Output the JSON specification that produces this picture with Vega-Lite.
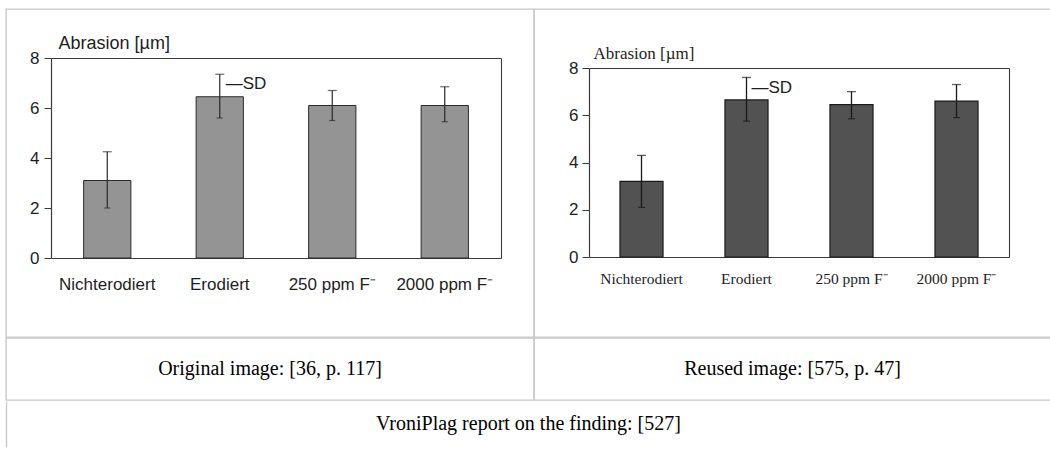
{
  "$schema": "https://vega.github.io/schema/vega-lite/v6.json",
  "background": "white",
  "padding": {"left": 5, "top": 8, "right": 0, "bottom": 0},
  "spacing": -1.4,
  "datasets": {
    "original": [
      {"group": "Nichterodiert", "mean": 3.1, "lo": 2.0, "hi": 4.25},
      {"group": "Erodiert", "mean": 6.45, "lo": 5.6, "hi": 7.35},
      {"group": "250 ppm F⁻", "mean": 6.1, "lo": 5.5, "hi": 6.7},
      {"group": "2000 ppm F⁻", "mean": 6.1, "lo": 5.45, "hi": 6.85}
    ],
    "reused": [
      {"group": "Nichterodiert", "mean": 3.2, "lo": 2.1, "hi": 4.3},
      {"group": "Erodiert", "mean": 6.65, "lo": 5.75, "hi": 7.6},
      {"group": "250 ppm F⁻", "mean": 6.45, "lo": 5.85, "hi": 7.0},
      {"group": "2000 ppm F⁻", "mean": 6.6, "lo": 5.9, "hi": 7.3}
    ],
    "sd1": [{"label": "—SD", "group": "Erodiert", "pos": 6.96}],
    "sd2": [{"label": "—SD", "group": "Erodiert", "pos": 7.16}],
    "cap1": [{"t": "Original image: [36, p. 117]"}],
    "cap2": [{"t": "Reused image: [575, p. 47]"}],
    "cap3": [{"t": "VroniPlag report on the finding: [527]"}]
  },
  "vconcat": [
    {
      "hconcat": [
        {
          "width": 528,
          "height": 328,
          "data": {"name": "original"},
          "layer": [
            {
              "mark": {"type": "bar", "fill": "#949494", "stroke": "#2a2a2a", "strokeWidth": 1},
              "encoding": {
                "x": {"field": "group", "type": "nominal", "sort": null,
                  "scale": {"range": [45, 495], "paddingInner": 0.58, "paddingOuter": 0.29},
                  "axis": {"orient": "bottom", "offset": -79, "title": null, "ticks": false, "labelAngle": 0, "labelPadding": 18,
                    "labelFont": "Liberation Sans", "labelFontSize": 17, "labelColor": "#1e1e1e", "domainColor": "#3a3a3a", "domainWidth": 1.2}},
                "y": {"field": "mean", "type": "quantitative",
                  "scale": {"domain": [0, 8], "range": [249, 49], "nice": false},
                  "axis": {"orient": "left", "offset": -45, "values": [0, 2, 4, 6, 8], "grid": false, "tickSize": 7, "tickColor": "#3a3a3a",
                    "labelPadding": 5, "labelFont": "Liberation Sans", "labelFontSize": 17, "labelColor": "#1e1e1e",
                    "domainColor": "#3a3a3a", "domainWidth": 1.2,
                    "title": "Abrasion [µm]", "titleAngle": 0, "titleAlign": "left", "titleBaseline": "alphabetic",
                    "titleX": 7, "titleY": 39, "titleFont": "Liberation Sans", "titleFontSize": 18, "titleFontWeight": "normal", "titleColor": "#1e1e1e"}}
              }
            },
            {
              "mark": {"type": "rule", "color": "#2a2a2a", "strokeWidth": 1.2},
              "encoding": {
                "x": {"field": "group", "type": "nominal", "sort": null,
                  "scale": {"range": [45, 495], "paddingInner": 0.58, "paddingOuter": 0.29},
                  "axis": {"orient": "top", "offset": -49, "title": null, "ticks": false, "labels": false, "domainColor": "#3a3a3a", "domainWidth": 1.1}},
                "y": {"field": "lo", "type": "quantitative",
                  "scale": {"domain": [0, 8], "range": [249, 49], "nice": false},
                  "axis": {"orient": "right", "offset": -33, "title": null, "ticks": false, "labels": false, "grid": false, "domainColor": "#3a3a3a", "domainWidth": 1.1}},
                "y2": {"field": "hi"}
              }
            },
            {
              "mark": {"type": "tick", "color": "#2a2a2a", "size": 9, "thickness": 1.2},
              "encoding": {
                "x": {"field": "group", "type": "nominal", "sort": null, "axis": null,
                  "scale": {"range": [45, 495], "paddingInner": 0.58, "paddingOuter": 0.29}},
                "y": {"field": "hi", "type": "quantitative", "axis": null,
                  "scale": {"domain": [0, 8], "range": [249, 49], "nice": false}}
              }
            },
            {
              "mark": {"type": "tick", "color": "#2a2a2a", "size": 6, "thickness": 1.2},
              "encoding": {
                "x": {"field": "group", "type": "nominal", "sort": null, "axis": null,
                  "scale": {"range": [45, 495], "paddingInner": 0.58, "paddingOuter": 0.29}},
                "y": {"field": "lo", "type": "quantitative", "axis": null,
                  "scale": {"domain": [0, 8], "range": [249, 49], "nice": false}}
              }
            },
            {
              "data": {"name": "sd1"},
              "mark": {"type": "text", "align": "left", "baseline": "middle", "dx": 6, "font": "Liberation Sans", "fontSize": 17, "color": "#1e1e1e"},
              "encoding": {
                "x": {"field": "group", "type": "nominal", "sort": null, "axis": null,
                  "scale": {"range": [45, 495], "paddingInner": 0.58, "paddingOuter": 0.29}},
                "y": {"field": "pos", "type": "quantitative", "axis": null,
                  "scale": {"domain": [0, 8], "range": [249, 49], "nice": false}},
                "text": {"field": "label"}
              }
            }
          ],
          "resolve": {"axis": {"x": "independent", "y": "independent"}}
        },
        {
          "width": 517,
          "height": 328,
          "data": {"name": "reused"},
          "layer": [
            {
              "mark": {"type": "bar", "fill": "#525252", "stroke": "#1a1a1a", "strokeWidth": 1.2},
              "encoding": {
                "x": {"field": "group", "type": "nominal", "sort": null,
                  "scale": {"range": [55, 475], "paddingInner": 0.59, "paddingOuter": 0.295},
                  "axis": {"orient": "bottom", "offset": -80, "title": null, "ticks": false, "labelAngle": 0, "labelPadding": 14,
                    "labelFont": "Liberation Serif", "labelFontSize": 15.5, "labelColor": "#1e1e1e", "domainColor": "#3a3a3a", "domainWidth": 1.2}},
                "y": {"field": "mean", "type": "quantitative",
                  "scale": {"domain": [0, 8], "range": [248, 59], "nice": false},
                  "axis": {"orient": "left", "offset": -55, "values": [0, 2, 4, 6, 8], "grid": false, "tickSize": 7, "tickColor": "#3a3a3a",
                    "labelPadding": 4, "labelFont": "Liberation Sans", "labelFontSize": 17, "labelColor": "#1e1e1e",
                    "domainColor": "#3a3a3a", "domainWidth": 1.2,
                    "title": "Abrasion [µm]", "titleAngle": 0, "titleAlign": "left", "titleBaseline": "alphabetic",
                    "titleX": 4, "titleY": 49, "titleFont": "Liberation Serif", "titleFontSize": 17, "titleFontWeight": "normal", "titleColor": "#1e1e1e"}}
              }
            },
            {
              "mark": {"type": "rule", "color": "#1a1a1a", "strokeWidth": 1.3},
              "encoding": {
                "x": {"field": "group", "type": "nominal", "sort": null,
                  "scale": {"range": [55, 475], "paddingInner": 0.59, "paddingOuter": 0.295},
                  "axis": {"orient": "top", "offset": -59, "title": null, "ticks": false, "labels": false, "domainColor": "#3a3a3a", "domainWidth": 1.1}},
                "y": {"field": "lo", "type": "quantitative",
                  "scale": {"domain": [0, 8], "range": [248, 59], "nice": false},
                  "axis": {"orient": "right", "offset": -42, "title": null, "ticks": false, "labels": false, "grid": false, "domainColor": "#3a3a3a", "domainWidth": 1.1}},
                "y2": {"field": "hi"}
              }
            },
            {
              "mark": {"type": "tick", "color": "#1a1a1a", "size": 9, "thickness": 1.3},
              "encoding": {
                "x": {"field": "group", "type": "nominal", "sort": null, "axis": null,
                  "scale": {"range": [55, 475], "paddingInner": 0.59, "paddingOuter": 0.295}},
                "y": {"field": "hi", "type": "quantitative", "axis": null,
                  "scale": {"domain": [0, 8], "range": [248, 59], "nice": false}}
              }
            },
            {
              "mark": {"type": "tick", "color": "#1a1a1a", "size": 7, "thickness": 1.3},
              "encoding": {
                "x": {"field": "group", "type": "nominal", "sort": null, "axis": null,
                  "scale": {"range": [55, 475], "paddingInner": 0.59, "paddingOuter": 0.295}},
                "y": {"field": "lo", "type": "quantitative", "axis": null,
                  "scale": {"domain": [0, 8], "range": [248, 59], "nice": false}}
              }
            },
            {
              "data": {"name": "sd2"},
              "mark": {"type": "text", "align": "left", "baseline": "middle", "dx": 5, "font": "Liberation Sans", "fontSize": 17, "color": "#1e1e1e"},
              "encoding": {
                "x": {"field": "group", "type": "nominal", "sort": null, "axis": null,
                  "scale": {"range": [55, 475], "paddingInner": 0.59, "paddingOuter": 0.295}},
                "y": {"field": "pos", "type": "quantitative", "axis": null,
                  "scale": {"domain": [0, 8], "range": [248, 59], "nice": false}},
                "text": {"field": "label"}
              }
            }
          ],
          "resolve": {"axis": {"x": "independent", "y": "independent"}}
        }
      ],
      "spacing": 0,
      "bounds": "flush"
    },
    {
      "hconcat": [
        {
          "width": 528, "height": 62,
          "data": {"name": "cap1"},
          "mark": {"type": "text", "font": "Liberation Serif", "fontSize": 20, "color": "#000000", "baseline": "middle", "align": "center"},
          "encoding": {
            "x": {"field": "t", "type": "nominal", "axis": null},
            "y": {"field": "t", "type": "nominal", "axis": null},
            "text": {"field": "t"}
          }
        },
        {
          "width": 517, "height": 62,
          "data": {"name": "cap2"},
          "mark": {"type": "text", "font": "Liberation Serif", "fontSize": 20, "color": "#000000", "baseline": "middle", "align": "center"},
          "encoding": {
            "x": {"field": "t", "type": "nominal", "axis": null},
            "y": {"field": "t", "type": "nominal", "axis": null},
            "text": {"field": "t"}
          }
        }
      ],
      "spacing": 0,
      "bounds": "flush"
    },
    {
      "width": 1045, "height": 56,
      "data": {"name": "cap3"},
      "view": {"stroke": null},
      "mark": {"type": "text", "font": "Liberation Serif", "fontSize": 20, "color": "#000000", "baseline": "middle", "align": "center"},
      "encoding": {
        "x": {"field": "t", "type": "nominal", "axis": null},
        "y": {"field": "t", "type": "nominal",
          "scale": {"range": [0, 46]},
          "axis": {"orient": "left", "title": null, "labels": false, "ticks": false, "domainColor": "#c8c8c8", "domainWidth": 1.4}},
        "text": {"field": "t"}
      }
    }
  ],
  "config": {
    "view": {"stroke": "#c8c8c8", "strokeWidth": 1.4},
    "font": "Liberation Sans"
  }
}
